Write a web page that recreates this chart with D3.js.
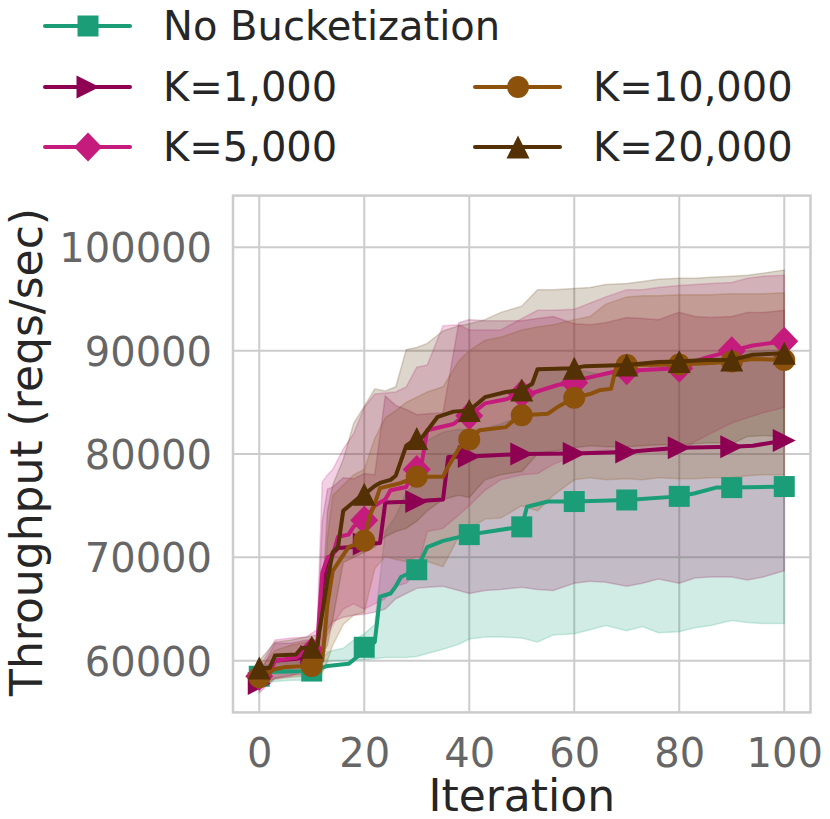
<!DOCTYPE html>
<html><head><meta charset="utf-8">
<script src="https://cdn.jsdelivr.net/npm/d3@7"></script>
<style>body{margin:0;background:#fff}svg{display:block}text{font-family:"DejaVu Sans",sans-serif}</style>
</head><body><svg id="c" width="830" height="819"></svg>
<script>
const seriesNames = ["No Bucketization","K=1,000","K=5,000","K=10,000","K=20,000"];
const colors = ["#1b9e77","#8e0152","#c51b7d","#8c510a","#543005"];
const markers = ["square","triRight","diamond","circle","triUp"];
const xTicks = [0,20,40,60,80,100];
const yTicks = [60000,70000,80000,90000,100000];
const markerIters = [0,10,20,30,40,50,60,70,80,90,100];

// mean lines (vertices)
const nbIt = [0,1,10,13,17,19,20,22,23,25,26,27,30,32,35,40,49,50,51,55,60,70,80,83,87,90,100];
const nbVal = [58500,58900,59000,59500,59700,60500,61300,61800,66200,66500,67200,68100,68800,71000,71600,72200,72900,72950,74900,75400,75400,75550,75900,76200,76750,76750,76850];
const k1It = [0,1,2,3,7,10,11,12,13,15,18,20,23,24,30,32,35,36,40,50,60,70,75,80,90,94,100];
const k1Val = [57800,58500,59400,60000,60200,60400,60500,67000,69800,70900,71000,71300,71400,75300,75400,75500,75600,79700,79750,80000,80050,80200,80400,80600,80700,80800,81300];
const k5It = [0,2,3,7,8,10,11,12,13,14,15,17,18,20,22,23,24,25,28,29,30,31,32,37,38,40,43,47,50,52,57,60,62,68,70,80,85,90,94,100];
const k5Val = [58500,58800,60000,60300,60600,60900,61200,68500,70000,70200,72000,72200,73000,73600,75000,75300,75600,76500,76800,78200,78500,79300,82300,82900,83300,83700,84900,85300,85800,85900,86700,86900,87300,88000,88050,88300,89300,90000,90500,90900];
const k10It = [0,2,3,5,10,12,13,14,17,20,21,22,23,27,30,35,36,38,40,42,47,49,50,55,57,60,63,65,67,68,70,80,86,90,94,100];
const k10Val = [58400,58900,59200,59400,59500,60000,65500,68700,71000,71600,73900,75200,76700,77200,77800,77800,78800,80500,81400,82300,82600,83500,83750,83900,84600,85450,85800,86200,86300,88400,88600,88650,88800,88950,89200,89100];
const k20It = [0,2,3,7,8,10,11,13,14,15,16,19,20,22,23,25,26,28,30,31,34,37,40,43,47,50,52,53,60,62,70,76,80,85,90,94,100];
const k20Val = [59300,59300,60500,60600,61200,61300,61400,67800,70500,71000,74500,75800,76100,76900,77200,77500,77900,80800,81500,81600,83600,84100,84200,85500,86000,86200,86800,88200,88300,88500,88600,88900,88950,89100,89100,89600,89750];

// shaded bands
const bandIt = [0,3,6,9,11,12,13,14,16,18,20,22,24,26,28,30,32,35,38,40,43,46,50,53,56,60,63,66,70,73,76,80,83,86,90,93,96,100];
const nbLo = [57600,58000,58100,58100,58300,59000,59800,60000,60000,60100,60100,60200,60300,60300,60300,60400,60700,61100,61600,62100,62300,62300,62200,61800,62500,62600,63000,63400,62900,63300,62700,62800,63200,63400,63900,63700,63600,63600];
const nbHi = [59400,59800,59800,59900,60000,60300,60800,61000,61200,62000,62600,63500,72500,74000,76300,77200,81300,82100,82400,82300,82500,82900,83700,88000,88300,88200,87900,87600,88200,88000,88800,89000,89200,89600,89600,89900,90000,90100];
const k1Lo = [56900,58300,58600,58700,59000,60500,63000,63800,64200,64400,64500,64700,65000,66000,66500,67000,67100,67200,66800,66500,66800,66900,67100,66900,66800,67500,67700,67600,67200,67500,67900,67500,68000,68100,68100,67800,68100,68700];
const k1Hi = [58700,61700,61700,62000,62000,73500,76600,76800,77700,77600,78100,78000,85600,84700,84300,83800,83900,84000,92700,93000,92900,92900,92900,93100,93300,92600,92500,92700,93200,93100,93000,93700,93300,93200,93300,93700,93700,93900];
const k5Lo = [57700,58300,58500,59200,59400,60000,62500,63500,65000,65500,65000,65500,66000,67200,67500,68600,72500,72800,74100,75000,76500,77500,78000,78100,79000,79800,80200,80400,80200,80300,80200,80100,81200,82000,83000,83500,84000,84500];
const k5Hi = [59300,62000,62200,62300,63000,77300,78000,78500,80500,82000,84500,85800,85900,86000,86500,88400,88600,92400,92500,92000,92000,92000,93100,93900,93900,94000,94600,95200,95900,95900,96100,96300,96400,96500,96600,97000,97200,97300];
const k10Lo = [57600,58200,58400,58500,58600,58800,60000,61500,63500,64400,64700,68900,70100,69800,69600,70100,69600,69100,72000,72800,73700,73800,75000,74500,76000,77500,77700,77500,77600,77500,77700,77600,77600,77700,77700,77900,78000,78000];
const k10Hi = [59200,61000,61500,61800,62000,63500,72000,76000,77000,78000,78500,81500,83500,84200,85000,85500,86000,86500,89000,90000,91000,91300,92000,92300,92500,93000,93300,94500,95200,95300,95300,95400,95400,95400,95500,95500,95500,95600];
const k20Lo = [58600,59200,59200,60200,60300,60600,61500,64000,69500,70000,70500,71000,72000,72500,72800,73500,74500,75600,76000,75800,77500,78000,78300,80000,80300,80600,80800,80700,80700,80800,80900,80900,81000,81100,81000,81700,81800,81700];
const k20Hi = [60000,61800,62000,62300,62500,66000,74500,77000,79500,83000,84600,86300,86100,86500,90100,90300,90700,91900,92400,92600,93000,93700,94300,95900,95900,96000,96100,96400,96500,96700,96900,97000,97000,97100,97200,97300,97500,97800];

const lineIts = [nbIt,k1It,k5It,k10It,k20It];
const lineVals = [nbVal,k1Val,k5Val,k10Val,k20Val];
const bandLos = [nbLo,k1Lo,k5Lo,k10Lo,k20Lo];
const bandHis = [nbHi,k1Hi,k5Hi,k10Hi,k20Hi];

const svg = d3.select("#c");
const x = d3.scaleLinear().domain([-5,105]).range([233,810.5]);
const y = d3.scaleLinear().domain([55000,105000]).range([712.4,195.6]);

// grid
const g = svg.append("g");
g.selectAll(".gx").data(xTicks).join("line").attr("x1",d=>x(d)).attr("x2",d=>x(d))
  .attr("y1",y.range()[0]).attr("y2",y.range()[1]).attr("stroke","#cccccc").attr("stroke-width",2);
g.selectAll(".gy").data(yTicks).join("line").attr("y1",d=>y(d)).attr("y2",d=>y(d))
  .attr("x1",x.range()[0]).attr("x2",x.range()[1]).attr("stroke","#cccccc").attr("stroke-width",2);

// axes via d3 axis
const xAxis = svg.append("g").attr("transform",`translate(0,${y.range()[0]})`)
  .call(d3.axisBottom(x).tickValues(xTicks).tickSize(0).tickPadding(26));
const yAxis = svg.append("g").attr("transform",`translate(${x.range()[0]},0)`)
  .call(d3.axisLeft(y).tickValues(yTicks).tickSize(0).tickPadding(21).tickFormat(d3.format("d")));
[xAxis,yAxis].forEach(a=>{a.select(".domain").remove();
  a.selectAll("text").attr("font-family","DejaVu Sans").attr("font-size",40).attr("fill","#666666");});
xAxis.selectAll("text").attr("dy","0.71em");
yAxis.selectAll("text").attr("dy","0.36em");

// bands
const area = d3.area().x(d=>x(d[0])).y0(d=>y(d[1])).y1(d=>y(d[2]));
const bands = svg.append("g");
for(let s=0;s<5;s++){
  const pts = bandIt.map((it,i)=>[it,bandLos[s][i],bandHis[s][i]]);
  bands.append("path").attr("d",area(pts)).attr("fill",colors[s]).attr("fill-opacity",0.2)
    .attr("stroke",colors[s]).attr("stroke-opacity",0.2).attr("stroke-width",1.5);
}

function markerPath(t){
  if(t==="square") return "M-10.5,-10.5h21v21h-21Z";
  if(t==="circle") return "M11,0A11,11 0 1,1 -11,0A11,11 0 1,1 11,0Z";
  if(t==="triUp") return "M0,-11.5L11.5,11.5L-11.5,11.5Z";
  if(t==="triRight") return "M11.5,0L-11.5,11.5L-11.5,-11.5Z";
  if(t==="diamond") return "M0,-14.5L14,0L0,14.5L-14,0Z";
}

const line = d3.line().x(d=>x(d[0])).y(d=>y(d[1]));
const lines = svg.append("g");
for(let s=0;s<5;s++){
  const pts = lineIts[s].map((it,i)=>[it,lineVals[s][i]]);
  lines.append("path").attr("d",line(pts)).attr("fill","none").attr("stroke",colors[s])
    .attr("stroke-width",4).attr("stroke-linejoin","round").attr("stroke-linecap","square");
  const mk = markerIters.filter(it=>lineIts[s].indexOf(it)>=0).map(it=>[it,lineVals[s][lineIts[s].indexOf(it)]]);
  lines.selectAll(null).data(mk).join("path").attr("d",markerPath(markers[s]))
    .attr("transform",d=>`translate(${x(d[0])},${y(d[1])})`).attr("fill",colors[s]);
}

// frame
svg.append("rect").attr("x",x.range()[0]).attr("y",y.range()[1])
  .attr("width",x.range()[1]-x.range()[0]).attr("height",y.range()[0]-y.range()[1])
  .attr("fill","none").attr("stroke","#cccccc").attr("stroke-width",2.5);

// axis labels
svg.append("text").attr("x",(x.range()[0]+x.range()[1])/2).attr("y",811).attr("text-anchor","middle")
  .attr("font-size",44).attr("fill","#262626").text("Iteration");
svg.append("text").attr("transform","translate(42,452) rotate(-90)").attr("text-anchor","middle")
  .attr("font-size",44).attr("fill","#262626").text("Throughput (reqs/sec)");

// legend
const legPos = [[45,26],[45,87],[45,147],[475,87],[475,147]];
const leg = svg.append("g");
for(let s=0;s<5;s++){
  const [lx,ly] = legPos[s];
  leg.append("line").attr("x1",lx).attr("x2",lx+85).attr("y1",ly).attr("y2",ly)
    .attr("stroke",colors[s]).attr("stroke-width",4).attr("stroke-linecap","round");
  leg.append("path").attr("d",markerPath(markers[s])).attr("transform",`translate(${lx+43},${ly})`).attr("fill",colors[s]);
  leg.append("text").attr("x",lx+118).attr("y",ly).attr("dy","0.36em").attr("font-size",40)
    .attr("fill","#262626").text(seriesNames[s]);
}
</script></body></html>
